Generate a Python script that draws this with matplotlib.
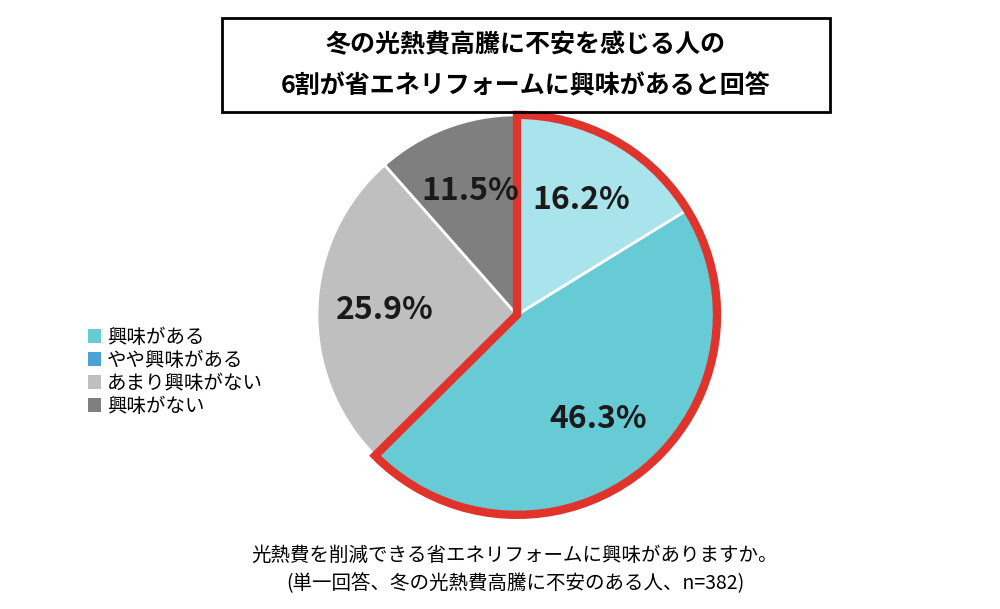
import matplotlib
matplotlib.use('Agg')
import matplotlib.pyplot as plt
from matplotlib.patches import Wedge, Patch, Rectangle

plt.rcParams['font.family'] = ['Noto Sans CJK JP', 'DejaVu Sans']

# data
values = [16.2, 46.3, 25.9, 11.5]
slice_colors = ['#a9e4ec', '#66cbd5', '#bfbfbf', '#7f7f7f']
legend_labels = ['興味がある', 'やや興味がある', 'あまり興味がない', '興味がない']
legend_colors = ['#66cbd5', '#4aa3d6', '#bfbfbf', '#7f7f7f']
title_lines = ['冬の光熱費高騰に不安を感じる人の', '6割が省エネリフォームに興味があると回答']
footer_lines = ['光熱費を削減できる省エネリフォームに興味がありますか。',
                '(単一回答、冬の光熱費高騰に不安のある人、n=382)']

fig = plt.figure(figsize=(10, 6.09), dpi=100)
ax = fig.add_axes([0.307, 0.138, 0.42, 0.69])
wedges, texts, autotexts = ax.pie(values, colors=slice_colors, startangle=90, counterclock=False,
                                  autopct='%.1f%%', pctdistance=0.66,
                                  wedgeprops=dict(edgecolor='white', linewidth=2))
for t in autotexts:
    t.set_fontsize(23)
    t.set_fontweight('bold')
    t.set_color('#1a1a1a')

# red outline around the "interested" share
share = (values[0] + values[1]) / sum(values)
ax.add_patch(Wedge((0, 0), 1.0, 90 - share * 360, 90, fill=False,
                   edgecolor='#e0332b', linewidth=6, joinstyle='miter'))
ax.set_xlim(-1.05, 1.05)
ax.set_ylim(-1.05, 1.05)
ax.set_aspect('equal')

# title box
fig.patches.append(Rectangle((0.222, 1 - 112 / 609), 0.608, 94 / 609, transform=fig.transFigure,
                             fill=False, edgecolor='black', linewidth=2))
fig.text(0.526, 1 - 45 / 609, title_lines[0], ha='center', va='center', fontsize=18, fontweight='bold')
fig.text(0.526, 1 - 86 / 609, title_lines[1], ha='center', va='center', fontsize=18, fontweight='bold')

handles = [Patch(facecolor=c, edgecolor='none') for c in legend_colors]
fig.legend(handles, legend_labels, loc='center left', bbox_to_anchor=(0.07, 1 - 372 / 609),
           frameon=False, fontsize=14, handlelength=0.7, handleheight=0.7,
           handletextpad=0.3, labelspacing=0.1)

fig.text(0.515, 1 - 555 / 609, footer_lines[0], ha='center', va='center', fontsize=14)
fig.text(0.515, 1 - 584 / 609, footer_lines[1], ha='center', va='center', fontsize=14)

fig.savefig('out.png', dpi=100, facecolor='white')
